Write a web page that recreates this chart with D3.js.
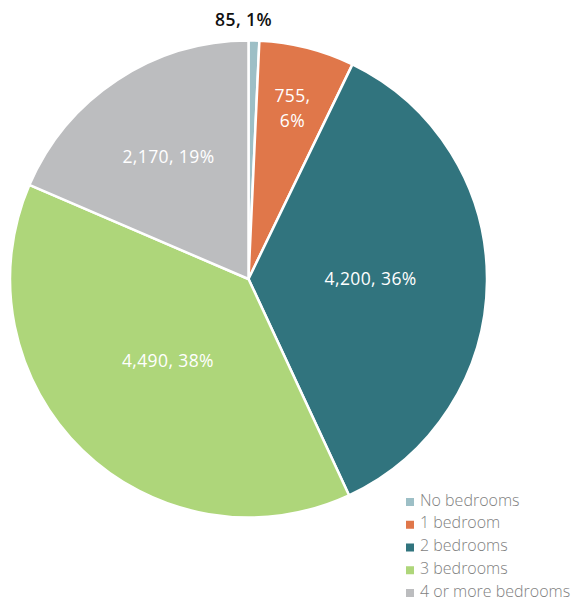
<!DOCTYPE html>
<html>
<head>
<meta charset="utf-8">
<script src="https://cdn.jsdelivr.net/npm/d3@7"></script>
<style>
  html, body { margin: 0; padding: 0; background: #fff; }
  svg { display: block; font-family: "Open Sans", "Noto Sans", sans-serif; }
</style>
</head>
<body>
<svg id="chart" width="572" height="603"></svg>
<script>
// Dwellings by number of bedrooms
const categories = ["No bedrooms", "1 bedroom", "2 bedrooms", "3 bedrooms", "4 or more bedrooms"];
const counts = [85, 755, 4200, 4490, 2170];
const colors = ["#9dbfc6", "#e0774a", "#31747e", "#aed67a", "#bcbdbf"];

const W = 572, H = 603;
const cx = 248.5, cy = 279, R = 238.5;

const svg = d3.select("#chart");
const total = d3.sum(counts);
const fmt = d3.format(",");
const pct = v => Math.round(v / total * 100) + "%";

const slices = categories.map((c, i) => ({ name: c, value: counts[i], color: colors[i] }));
const pie = d3.pie().sort(null).value(d => d.value);
const arcs = pie(slices);
const arc = d3.arc().innerRadius(0).outerRadius(R);

const g = svg.append("g").attr("transform", `translate(${cx},${cy})`);

g.selectAll("path")
  .data(arcs)
  .join("path")
  .attr("d", arc)
  .attr("fill", d => d.data.color)
  .attr("stroke", "#fff")
  .attr("stroke-width", 2.5)
  .attr("stroke-linejoin", "round");

// label placement radius (fraction of R) per slice; small slice goes outside
const labelR = [1.1, 0.75, 0.512, 0.485, 0.61];

arcs.forEach((d, i) => {
  const mid = (d.startAngle + d.endAngle) / 2;
  const r = labelR[i] * R;
  const x = Math.sin(mid) * r;
  const y = -Math.cos(mid) * r;
  const inside = i > 0;
  const t = g.append("text")
    .attr("text-anchor", "middle")
    .attr("font-size", 17.5)
    .attr("letter-spacing", 0.4)
    .attr("fill", inside ? "#fff" : "#111")
    .attr("font-weight", inside ? 400 : 600);
  if (i === 1) {
    t.append("tspan").attr("x", x).attr("y", y - 4).text(fmt(d.data.value) + ",");
    t.append("tspan").attr("x", x).attr("y", y + 21).text(pct(d.data.value));
  } else if (i === 0) {
    t.attr("x", x - 11).attr("y", -R - 15).text(fmt(d.data.value) + ", " + pct(d.data.value));
  } else {
    t.attr("x", x).attr("y", y + 5).text(fmt(d.data.value) + ", " + pct(d.data.value));
  }
});

// legend
const legend = svg.append("g").attr("transform", "translate(406,500)");
const rows = legend.selectAll("g")
  .data(slices)
  .join("g")
  .attr("transform", (d, i) => `translate(0,${i * 22.75})`);
rows.append("rect")
  .attr("x", 0).attr("y", -2)
  .attr("width", 8).attr("height", 8)
  .attr("fill", d => d.color);
rows.append("text")
  .attr("x", 14).attr("y", 5.7)
  .attr("font-size", 16)
  .attr("font-weight", 300)
  .attr("fill", "#7f7f7f")
  .text(d => d.name);
</script>
</body>
</html>
